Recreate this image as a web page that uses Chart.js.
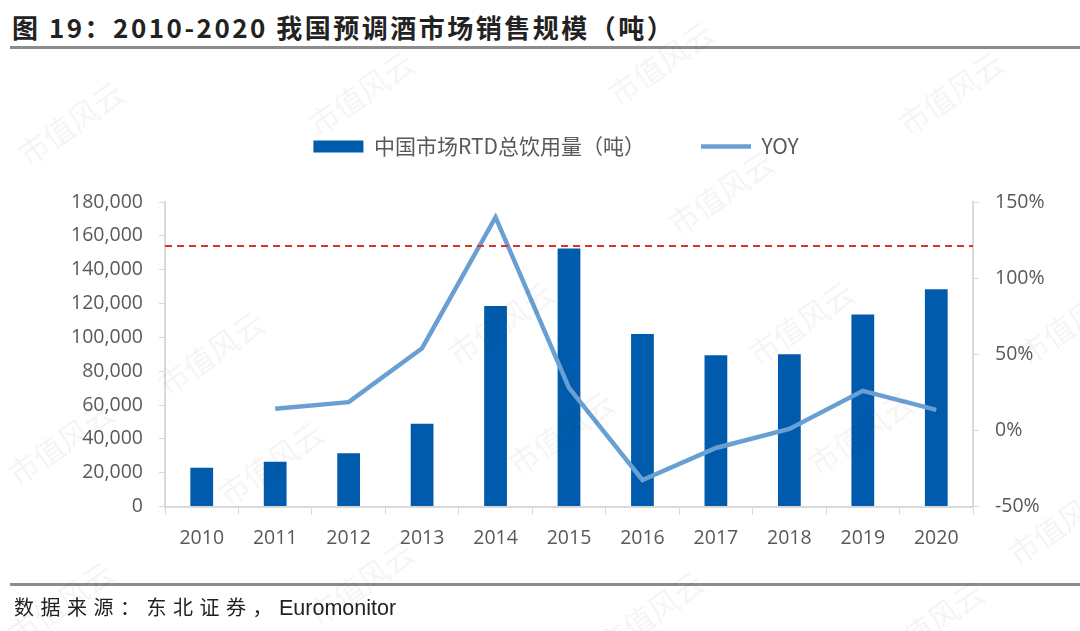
<!DOCTYPE html>
<html lang="zh">
<head>
  <meta charset="UTF-8">
  <title>预调酒市场销售规模</title>
  <script src="https://cdn.jsdelivr.net/npm/chart.js@4"></script>
  <style>
    body {
      margin: 0;
      width: 1080px;
      height: 631px;
      background: #fff;
      position: relative;
      overflow: hidden;
      font-family: "Noto Sans CJK SC", "Liberation Sans", sans-serif;
    }
    .title {
      position: absolute;
      left: 12px;
      top: 8px;
      font-size: 26px;
      font-weight: bold;
      letter-spacing: 2.5px;
      color: #222;
    }
    .rule {
      position: absolute;
      left: 10px;
      right: 0;
      height: 3px;
      background: #8c8c8c;
    }
    .source {
      position: absolute;
      left: 14px;
      top: 592px;
      font-size: 20px;
      color: #222;
    }
    .source .cn { letter-spacing: 6.5px; }
    .source .en { font-family: "Liberation Sans", sans-serif; font-size: 21.5px; }
    .wrap {
      position: absolute;
      left: 0;
      top: 0;
      width: 1080px;
      height: 631px;
    }
    .wm {
      position: absolute;
      font-size: 30px;
      color: rgba(0,0,0,0.045);
      transform: rotate(-35deg);
      white-space: nowrap;
      pointer-events: none;
    }
  </style>
</head>
<body>
  <div class="title">图 19：2010-2020 我国预调酒市场销售规模（吨）</div>
  <div class="rule" style="top:46px"></div>
  <div class="wrap"><canvas id="chart"></canvas></div>
  <div class="rule" style="top:583px"></div>
  <div class="source"><span class="cn">数据来源：东北证券，</span><span class="en">Euromonitor</span></div>
  <div id="marks"></div>

  <script>
    const years = ["2010", "2011", "2012", "2013", "2014", "2015", "2016", "2017", "2018", "2019", "2020"];
    const volume = [23000, 26500, 31500, 49000, 118500, 152500, 102000, 89500, 90000, 113500, 128500];
    const yoy = [null, 0.143, 0.186, 0.54, 1.40, 0.28, -0.325, -0.115, 0.01, 0.26, 0.135];
    const refLine = 154000;
    const leftTicks = [0, 20000, 40000, 60000, 80000, 100000, 120000, 140000, 160000, 180000];

    // watermark
    const marks = document.getElementById("marks");
    [[10,100],[300,70],[600,40],[890,70],[660,170],[150,330],[440,300],[740,300],[1010,300],
     [0,420],[210,440],[500,410],[800,410],[1000,500],[0,580],[300,560],[590,590],[870,600]].forEach(p => {
      const d = document.createElement("div");
      d.className = "wm";
      d.textContent = "市值风云";
      d.style.left = p[0] + "px";
      d.style.top = p[1] + "px";
      marks.appendChild(d);
    });

    const dashLine = {
      id: "dashLine",
      afterInit(chart) {
        // leave a gap between legend and plot
        const fit = chart.legend.fit;
        chart.legend.fit = function () {
          fit.call(this);
          this.height += 35;
        };
      },
      afterDatasetsDraw(chart) {
        const { ctx, chartArea, scales } = chart;
        const y = scales.y.getPixelForValue(refLine);
        ctx.save();
        ctx.strokeStyle = "#e03030";
        ctx.lineWidth = 2;
        ctx.setLineDash([7, 5]);
        ctx.beginPath();
        ctx.moveTo(chartArea.left, y);
        ctx.lineTo(chartArea.right, y);
        ctx.stroke();
        ctx.restore();
      }
    };

    const tickFont = { family: "'Open Sans', 'Liberation Sans', sans-serif", size: 19.5 };
    const grey = "#595959";
    const axisGrey = "#d9d9d9";

    new Chart(document.getElementById("chart"), {
      data: {
        labels: years,
        datasets: [
          {
            type: "line",
            label: "YOY",
            data: yoy,
            yAxisID: "y1",
            borderColor: "#6a9fd4",
            backgroundColor: "#6a9fd4",
            borderWidth: 4.5,
            pointRadius: 0,
            tension: 0,
            order: 0
          },
          {
            type: "bar",
            label: "中国市场RTD总饮用量（吨）",
            data: volume,
            yAxisID: "y",
            backgroundColor: "#005bac",
            barPercentage: 0.31,
            categoryPercentage: 1,
            order: 1
          }
        ]
      },
      options: {
        responsive: true,
        maintainAspectRatio: false,
        animation: false,
        layout: { padding: { left: 32, right: 0, top: 80, bottom: 69 } },
        plugins: {
          legend: {
            reverse: true,
            labels: {
              color: grey,
              font: { family: "'Noto Sans CJK SC', sans-serif", size: 21 },
              usePointStyle: true,
              pointStyleWidth: 50,
              boxHeight: 12,
              padding: 56,
              generateLabels(chart) {
                return chart.data.datasets.map((ds, i) => ({
                  text: ds.label,
                  fillStyle: ds.backgroundColor,
                  strokeStyle: ds.type === "line" ? ds.borderColor : ds.backgroundColor,
                  lineWidth: ds.type === "line" ? 4.5 : 0,
                  pointStyle: ds.type === "line" ? "line" : "rect",
                  fontColor: grey,
                  datasetIndex: i
                }));
              }
            }
          },
          tooltip: { enabled: false }
        },
        scales: {
          x: {
            offset: true,
            grid: { offset: true, drawOnChartArea: false, color: axisGrey, tickLength: 8 },
            border: { color: axisGrey, width: 2 },
            ticks: { color: grey, font: tickFont, padding: 12 }
          },
          y: {
            position: "left",
            min: 0,
            max: 180000,
            afterBuildTicks(axis) { axis.ticks = leftTicks.map(v => ({ value: v })); },
            afterFit(axis) { axis.width = 133; },
            grid: { drawOnChartArea: false, color: axisGrey, tickLength: 6 },
            border: { color: axisGrey, width: 2 },
            ticks: { color: grey, font: tickFont, padding: 16, callback: v => v.toLocaleString("en-US") }
          },
          y1: {
            position: "right",
            min: -0.5,
            max: 1.5,
            ticks: { stepSize: 0.5, color: grey, font: tickFont, padding: 16, callback: v => Math.round(v * 100) + "%" },
            afterFit(axis) { axis.width = 107; },
            grid: { drawOnChartArea: false, color: axisGrey, tickLength: 6 },
            border: { color: axisGrey, width: 2 }
          }
        }
      },
      plugins: [dashLine]
    });
  </script>
</body>
</html>
